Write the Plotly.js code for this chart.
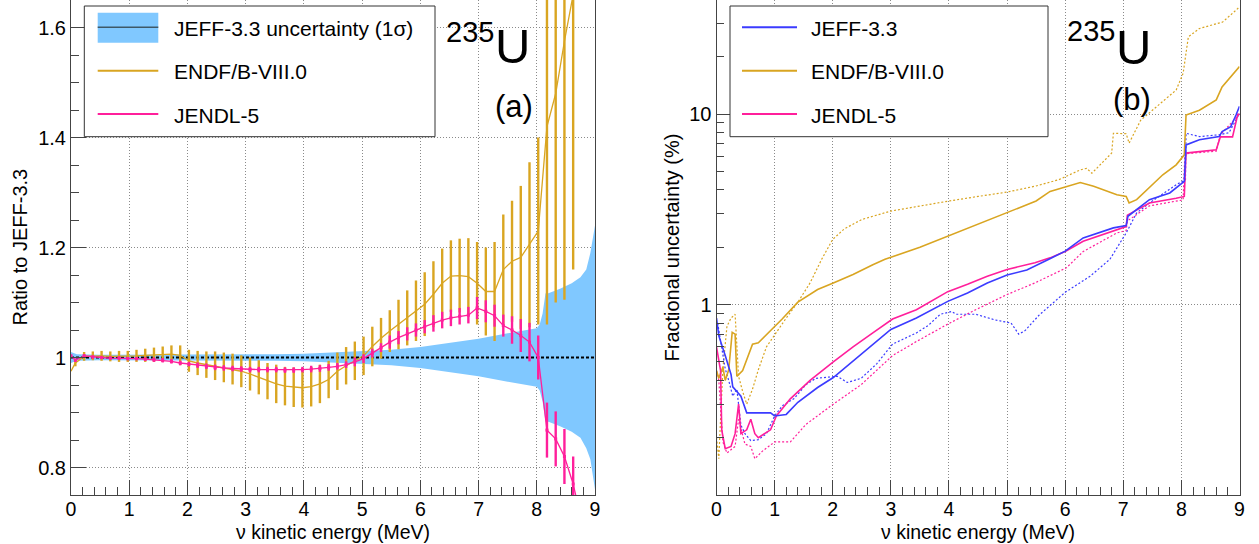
<!DOCTYPE html>
<html><head><meta charset="utf-8">
<script src="https://cdn.plot.ly/plotly-3.0.1.min.js"></script>
<style>html,body{margin:0;padding:0;background:#fff;} #chart{width:1259px;height:544px;}</style>
</head><body><div id="chart"></div>
<script>
// ---------------- Panel (a): ratio to JEFF-3.3 ----------------
const ratioE = [0, 0.075, 0.225, 0.375, 0.525, 0.675, 0.825, 0.975, 1.125, 1.275, 1.425, 1.575, 1.725, 1.875, 2.025, 2.175, 2.325, 2.475, 2.625, 2.775, 2.925, 3.075, 3.225, 3.375, 3.525, 3.675, 3.825, 3.975, 4.125, 4.275, 4.425, 4.575, 4.725, 4.875, 5.025, 5.175, 5.325, 5.475, 5.625, 5.775, 5.925, 6.075, 6.225, 6.375, 6.525, 6.675, 6.825, 6.975, 7.125, 7.275, 7.425, 7.575, 7.725, 7.875, 8.025, 8.175, 8.325, 8.475, 8.625, 8.775, 8.925];
const endfRatio = [0.975, 0.99, 1.002, 1.003, 1.003, 1.002, 1.002, 1.002, 1.003, 1.004, 1.005, 1.006, 1.006, 1.004, 0.994, 0.99, 0.987, 0.985, 0.982, 0.979, 0.975, 0.97, 0.964, 0.957, 0.952, 0.948, 0.946, 0.945, 0.947, 0.952, 0.96, 0.975, 0.985, 0.994, 1.003, 1.02, 1.035, 1.048, 1.06, 1.072, 1.085, 1.097, 1.115, 1.135, 1.148, 1.149, 1.147, 1.135, 1.12, 1.12, 1.16, 1.175, 1.182, 1.205, 1.23, 1.42, 1.48, 1.575, 1.66, 1.8, 1.95];
const endfErr = [0, 0.006, 0.008, 0.008, 0.009, 0.009, 0.01, 0.01, 0.011, 0.012, 0.013, 0.014, 0.016, 0.018, 0.02, 0.022, 0.024, 0.026, 0.027, 0.028, 0.029, 0.03, 0.031, 0.033, 0.035, 0.035, 0.036, 0.036, 0.036, 0.035, 0.034, 0.034, 0.034, 0.035, 0.035, 0.036, 0.037, 0.038, 0.045, 0.05, 0.055, 0.058, 0.06, 0.063, 0.065, 0.067, 0.07, 0.075, 0.08, 0.09, 0.1, 0.11, 0.13, 0.15, 0.17, 0.36, 0.38, 0.47, 0.5, 0.1, 0.1];
const jendlRatio = [1.003, 0.995, 1.003, 1.001, 1.0, 0.999, 0.999, 0.998, 0.998, 0.997, 0.996, 0.995, 0.993, 0.99, 0.988, 0.986, 0.984, 0.982, 0.981, 0.98, 0.979, 0.978, 0.978, 0.978, 0.978, 0.977, 0.977, 0.978, 0.979, 0.98, 0.982, 0.984, 0.987, 0.992, 0.998, 1.008, 1.018, 1.028, 1.036, 1.043, 1.05, 1.056, 1.062, 1.068, 1.072, 1.075, 1.077, 1.09, 1.084, 1.076, 1.058, 1.05, 1.04, 1.028, 1.0, 0.868, 0.852, 0.82, 0.77, 0.7, 0.65];
const jendlErr = [0, 0.003, 0.003, 0.003, 0.003, 0.003, 0.003, 0.003, 0.003, 0.003, 0.004, 0.004, 0.004, 0.004, 0.004, 0.005, 0.005, 0.005, 0.005, 0.005, 0.005, 0.005, 0.005, 0.005, 0.005, 0.005, 0.005, 0.005, 0.006, 0.006, 0.006, 0.006, 0.006, 0.008, 0.008, 0.008, 0.008, 0.012, 0.012, 0.012, 0.012, 0.012, 0.015, 0.015, 0.015, 0.015, 0.015, 0.02, 0.02, 0.02, 0.02, 0.025, 0.03, 0.035, 0.04, 0.05, 0.05, 0.05, 0.05, 0.05, 0.05];
const bandE = [0, 0.1, 0.5, 1, 1.5, 2, 2.5, 3, 3.5, 4, 4.5, 5, 5.5, 6, 6.5, 7, 7.5, 8, 8.05, 8.1, 8.15, 8.2, 8.4, 8.6, 8.75, 8.85, 8.92, 8.97, 9.0];
const bandUpper = [1.01, 1.006, 1.005, 1.005, 1.005, 1.005, 1.005, 1.006, 1.006, 1.007, 1.009, 1.011, 1.014, 1.019, 1.026, 1.034, 1.044, 1.053, 1.06, 1.08, 1.117, 1.117, 1.125, 1.135, 1.146, 1.16, 1.19, 1.22, 1.24];
const bandLower = [0.99, 0.994, 0.995, 0.995, 0.995, 0.995, 0.995, 0.994, 0.994, 0.993, 0.991, 0.989, 0.986, 0.981, 0.974, 0.966, 0.956, 0.947, 0.94, 0.92, 0.883, 0.883, 0.875, 0.865, 0.854, 0.835, 0.815, 0.78, 0.76];
const refLineE = [0, 9];
const refLineY = [1, 1];

// ---------------- Panel (b): fractional uncertainty (%) ----------------
const jeffE = [0.0, 0.04, 0.15, 0.25, 0.28, 0.42, 0.52, 0.7, 0.93, 1.0, 1.2, 1.4, 1.74, 2.01, 2.35, 2.69, 3.0, 3.44, 3.98, 4.32, 4.66, 5.0, 5.34, 5.72, 6.0, 6.31, 6.83, 7.05, 7.08, 7.45, 7.8, 8.05, 8.08, 8.31, 8.65, 8.7, 8.85, 8.94, 9.0];
const jeffU = [0.85, 0.685, 0.54, 0.43, 0.37, 0.33, 0.27, 0.27, 0.27, 0.26, 0.265, 0.307, 0.367, 0.414, 0.506, 0.618, 0.74, 0.85, 1.04, 1.15, 1.3, 1.43, 1.52, 1.73, 1.91, 2.24, 2.53, 2.6, 2.91, 3.56, 3.86, 4.44, 6.9, 7.34, 7.63, 8.1, 8.6, 9.9, 11.0];
const jeffDotE = [0.02, 0.11, 0.15, 0.21, 0.28, 0.35, 0.42, 0.49, 0.59, 0.72, 0.86, 1.0, 1.13, 1.33, 1.54, 1.71, 2.08, 2.25, 2.49, 2.76, 3.03, 3.44, 3.65, 3.85, 4.05, 4.12, 4.46, 4.8, 5.07, 5.2, 5.31, 5.55, 5.75, 6.0, 6.43, 6.77, 7.05, 7.23, 7.45, 7.91, 8.07, 8.08, 8.31, 8.65, 8.82, 9.0];
const jeffDotU = [0.8, 0.54, 0.46, 0.4, 0.33, 0.36, 0.233, 0.21, 0.193, 0.195, 0.21, 0.26, 0.294, 0.32, 0.38, 0.41, 0.42, 0.39, 0.41, 0.49, 0.62, 0.71, 0.78, 0.89, 0.92, 0.89, 0.89, 0.83, 0.8, 0.7, 0.73, 0.88, 1.0, 1.16, 1.41, 1.73, 2.38, 3.03, 3.42, 4.26, 4.53, 7.94, 7.63, 7.8, 8.0, 10.1];
const endfE = [0.0, 0.04, 0.11, 0.15, 0.21, 0.27, 0.32, 0.35, 0.45, 0.62, 0.72, 0.93, 1.13, 1.4, 1.74, 2.01, 2.35, 2.69, 2.9, 3.5, 4.0, 4.5, 5.0, 5.5, 5.74, 6.26, 6.49, 6.89, 7.05, 7.1, 7.23, 7.45, 7.68, 7.91, 8.05, 8.08, 8.31, 8.6, 8.7, 9.0];
const endfU = [0.45, 0.41, 0.47, 0.4, 0.455, 0.715, 0.7, 0.42, 0.45, 0.62, 0.63, 0.73, 0.84, 1.03, 1.2, 1.3, 1.44, 1.62, 1.73, 2.0, 2.3, 2.65, 3.05, 3.5, 3.93, 4.38, 4.18, 3.78, 3.7, 3.42, 3.56, 4.1, 4.81, 5.42, 6.12, 9.9, 10.5, 11.9, 13.9, 17.8];
const endfDotE = [0.0, 0.04, 0.07, 0.11, 0.18, 0.25, 0.32, 0.38, 0.45, 0.52, 0.62, 0.72, 0.86, 1.03, 1.2, 1.4, 1.61, 1.81, 2.0, 2.2, 2.5, 3.0, 3.5, 4.0, 4.5, 5.0, 5.5, 5.89, 6.26, 6.37, 6.46, 6.8, 6.83, 7.05, 7.1, 7.3, 7.58, 7.91, 8.03, 8.12, 8.31, 8.71, 8.94, 9.0];
const endfDotU = [0.2, 0.155, 0.25, 0.46, 0.77, 0.85, 0.89, 0.42, 0.35, 0.3, 0.36, 0.455, 0.6, 0.72, 0.85, 1.03, 1.3, 1.73, 2.2, 2.5, 2.8, 3.1, 3.3, 3.5, 3.7, 3.9, 4.2, 4.53, 5.1, 5.2, 4.9, 6.25, 7.94, 7.9, 7.05, 9.3, 11, 13.4, 16.4, 25.5, 28.2, 30.5, 35.2, 36.6];
const jendlE = [0.0, 0.04, 0.07, 0.09, 0.15, 0.25, 0.32, 0.38, 0.42, 0.52, 0.59, 0.66, 0.72, 0.93, 1.03, 1.27, 1.61, 2.01, 2.35, 2.69, 3.03, 3.44, 3.98, 4.32, 4.66, 5.0, 5.48, 5.74, 6.0, 6.31, 6.83, 7.05, 7.07, 7.45, 7.91, 8.05, 8.08, 8.6, 8.67, 8.88, 8.97, 9.0];
const jendlU = [0.6, 0.52, 0.45, 0.22, 0.175, 0.18, 0.21, 0.3, 0.21, 0.22, 0.25, 0.21, 0.2, 0.22, 0.26, 0.32, 0.4, 0.5, 0.6, 0.71, 0.84, 0.94, 1.17, 1.28, 1.41, 1.53, 1.66, 1.76, 1.9, 2.15, 2.43, 2.57, 2.95, 3.42, 3.62, 3.7, 6.25, 6.5, 7.6, 7.6, 10, 10];
const jendlDotE = [0.0, 0.04, 0.11, 0.18, 0.32, 0.38, 0.49, 0.59, 0.66, 0.79, 1.0, 1.27, 1.54, 2.01, 2.49, 3.03, 3.44, 3.98, 4.46, 5.0, 5.48, 6.02, 6.31, 6.89, 7.05, 7.07, 7.45, 8.03, 8.06, 8.6, 8.67, 9.0];
const jendlDotU = [0.45, 0.4, 0.19, 0.166, 0.18, 0.25, 0.185, 0.18, 0.155, 0.17, 0.19, 0.19, 0.235, 0.3, 0.38, 0.54, 0.64, 0.79, 0.94, 1.13, 1.3, 1.56, 1.9, 2.38, 2.45, 2.75, 3.3, 3.55, 6.2, 6.4, 7.8, 10];

const legendA = ['JEFF-3.3 uncertainty (1σ)', 'ENDF/B-VIII.0', 'JENDL-5'];
const legendB = ['JEFF-3.3', 'ENDF/B-VIII.0', 'JENDL-5'];

// ---------------- styling ----------------
const FONT = 'Liberation Sans, Arial, Helvetica, sans-serif';
const GOLD = '#d9a521', PINK = '#ff1f9b', BLUE = '#3b3bff', SKY = '#80c8ff';
const W = 1259, PH = 495;
const px = v => v / W;
const py = v => (PH - v) / PH;

const traces = [
  {x: bandE, y: bandLower, mode: 'lines', line: {width: 0, color: SKY}, xaxis: 'x', yaxis: 'y', hoverinfo: 'skip'},
  {x: bandE, y: bandUpper, mode: 'lines', fill: 'tonexty', fillcolor: SKY, line: {width: 0, color: SKY}, xaxis: 'x', yaxis: 'y', hoverinfo: 'skip'},
  {x: refLineE, y: refLineY, mode: 'lines', line: {width: 2, color: '#000', dash: '3px,2px'}, xaxis: 'x', yaxis: 'y'},
  {x: ratioE, y: endfRatio, mode: 'lines', line: {width: 1.3, color: GOLD},
   error_y: {type: 'data', array: endfErr, visible: true, color: GOLD, thickness: 2.4, width: 0}, xaxis: 'x', yaxis: 'y'},
  {x: ratioE, y: jendlRatio, mode: 'lines+markers', line: {width: 1.3, color: PINK}, marker: {size: 3, color: PINK, symbol: 'square'},
   error_y: {type: 'data', array: jendlErr, visible: true, color: PINK, thickness: 2.4, width: 0}, xaxis: 'x', yaxis: 'y'},

  {x: endfDotE, y: endfDotU, mode: 'lines', line: {width: 1.2, color: GOLD, dash: '2px,2px'}, xaxis: 'x2', yaxis: 'y2'},
  {x: jendlDotE, y: jendlDotU, mode: 'lines', line: {width: 1.2, color: PINK, dash: '2px,2px'}, xaxis: 'x2', yaxis: 'y2'},
  {x: jeffDotE, y: jeffDotU, mode: 'lines', line: {width: 1.2, color: BLUE, dash: '2px,2px'}, xaxis: 'x2', yaxis: 'y2'},
  {x: endfE, y: endfU, mode: 'lines', line: {width: 1.6, color: GOLD}, xaxis: 'x2', yaxis: 'y2'},
  {x: jendlE, y: jendlU, mode: 'lines', line: {width: 1.6, color: PINK}, xaxis: 'x2', yaxis: 'y2'},
  {x: jeffE, y: jeffU, mode: 'lines', line: {width: 1.6, color: BLUE}, xaxis: 'x2', yaxis: 'y2'}
];

const axisCommon = {
  showline: true, linecolor: '#444', linewidth: 1, mirror: true,
  ticks: 'inside', ticklen: 15, tickcolor: '#444', tickwidth: 1,
  showgrid: true, gridcolor: '#8a8a8a', griddash: '1px,2px', gridwidth: 1,
  zeroline: false, tickfont: {size: 20, family: FONT, color: '#000'}, fixedrange: true
};
const xMinor = {ticks: 'inside', ticklen: 8, tickcolor: '#444', dtick: 0.2, tick0: 0, showgrid: false};
const xTickFont = {size: 19.5, family: FONT, color: '#000'};

const layout = {
  width: 1259, height: 544,
  margin: {l: 0, r: 0, t: 0, b: 49},
  paper_bgcolor: '#fff', plot_bgcolor: '#fff',
  showlegend: false, hovermode: false,
  font: {family: FONT, color: '#000'},
  xaxis: Object.assign({}, axisCommon, {domain: [px(71), px(595)], range: [0, 9], dtick: 1, tick0: 0, anchor: 'y', minor: xMinor, ticklabelstandoff: -3, tickfont: xTickFont}),
  yaxis: Object.assign({}, axisCommon, {domain: [0, 1], range: [0.75, 1.65], dtick: 0.2, tick0: 0, anchor: 'x',
    minor: {ticks: 'inside', ticklen: 8, tickcolor: '#444', dtick: 0.05, tick0: 0, showgrid: false}}),
  xaxis2: Object.assign({}, axisCommon, {domain: [px(716.5), px(1239.5)], range: [0, 9], dtick: 1, tick0: 0, anchor: 'y2', minor: xMinor, ticklabelstandoff: -3, tickfont: xTickFont}),
  yaxis2: Object.assign({}, axisCommon, {domain: [0, 1], type: 'log', range: [-1, 1.6], anchor: 'x2',
    tickmode: 'array', tickvals: [1, 10], ticktext: ['1', '10'], ticklen: 14,
    minor: {ticks: 'inside', ticklen: 7, tickcolor: '#444', tickmode: 'array',
      tickvals: [0.2, 0.3, 0.4, 0.5, 0.6, 0.7, 0.8, 0.9, 2, 3, 4, 5, 6, 7, 8, 9, 20, 30], showgrid: false}}),
  shapes: [],
  annotations: []
};

// manual legends (ROOT style)
function addLegend(x0, x1, symX0, symX1, textX, labels, kinds) {
  layout.shapes.push({type: 'rect', xref: 'paper', yref: 'paper', x0: px(x0), x1: px(x1), y0: py(136.7), y1: py(6),
    line: {color: '#333', width: 1}, fillcolor: '#fff', layer: 'above'});
  const ys = [27.3, 70.7, 114];
  kinds.forEach((k, i) => {
    if (k.band) {
      layout.shapes.push({type: 'rect', xref: 'paper', yref: 'paper', x0: px(symX0), x1: px(symX1), y0: py(42.7), y1: py(12.7),
        line: {width: 0}, fillcolor: SKY, layer: 'above'});
      layout.shapes.push({type: 'line', xref: 'paper', yref: 'paper', x0: px(symX0), x1: px(symX1), y0: py(ys[i]), y1: py(ys[i]),
        line: {color: '#3d5868', width: 1.5}, layer: 'above'});
    } else {
      layout.shapes.push({type: 'line', xref: 'paper', yref: 'paper', x0: px(symX0), x1: px(symX1), y0: py(ys[i]), y1: py(ys[i]),
        line: {color: k.color, width: 2}, layer: 'above'});
    }
    layout.annotations.push({xref: 'paper', yref: 'paper', x: px(textX), y: py(ys[i] + 1), xanchor: 'left', yanchor: 'middle',
      text: labels[i], showarrow: false, font: {size: 21, family: FONT, color: '#000'}});
  });
}
addLegend(84.3, 435, 97.7, 158.3, 172, legendA, [{band: true}, {color: GOLD}, {color: PINK}]);
addLegend(730, 1048, 742, 797, 809, legendB, [{color: BLUE}, {color: GOLD}, {color: PINK}]);

function addText(x, y, text, size, angle) {
  layout.annotations.push({xref: 'paper', yref: 'paper', x: px(x), y: py(y), xanchor: 'center', yanchor: 'middle',
    text: text, showarrow: false, textangle: angle || 0, font: {size: size, family: FONT, color: '#000'}});
}
// isotope labels and panel tags
addText(470, 32, '235', 29); addText(512.5, 45.5, 'U', 49); addText(513.5, 106, '(a)', 31);
addText(1091, 31, '235', 29); addText(1133, 46.5, 'U', 49); addText(1131.5, 100, '(b)', 31);
// axis titles
addText(333, 532, 'ν kinetic energy (MeV)', 19.5);
addText(978, 532, 'ν kinetic energy (MeV)', 19.5);
addText(19, 247.5, 'Ratio to JEFF-3.3', 20, -90);
addText(671, 247.5, 'Fractional uncertainty (%)', 20, -90);

Plotly.newPlot('chart', traces, layout, {staticPlot: true, displayModeBar: false});
</script></body></html>
